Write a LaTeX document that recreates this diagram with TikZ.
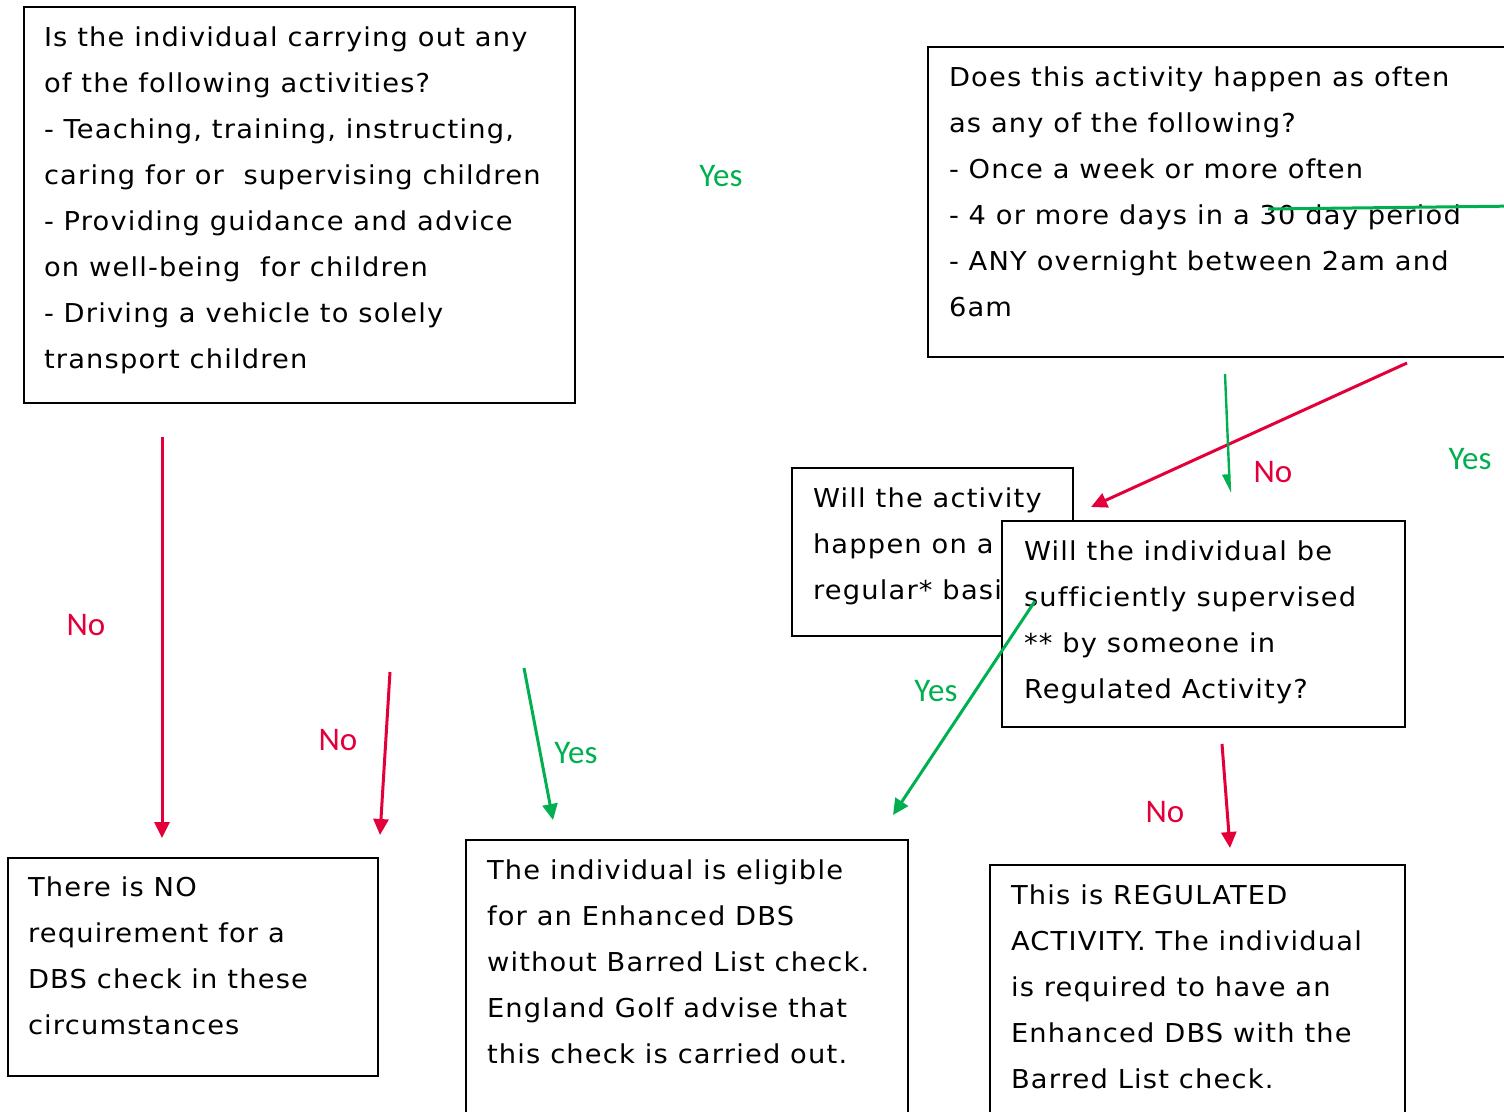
\documentclass[tikz,border=0pt]{standalone}
\usepackage{fontspec}
\setmainfont[LetterSpace=4.6,FakeStretch=1.05,Ligatures={NoCommon}]{DejaVu Sans}
\newfontfamily\lblfont{Carlito}
\usetikzlibrary{arrows.meta}
\definecolor{nored}{RGB}{227,0,58}
\definecolor{yesgreen}{RGB}{0,176,80}
\begin{document}
\begin{tikzpicture}[x=1pt,y=-1pt,
  box/.style={draw=black, line width=1.6pt, fill=white, anchor=north west,
    inner sep=0pt, outer sep=0pt},
  txt/.style={anchor=north west, inner sep=0pt, outer sep=0pt, align=left,
    font=\fontsize{26}{46}\selectfont},
  lbl/.style={inner sep=0pt, font=\lblfont\fontsize{33}{40}\selectfont},
  nolbl/.style={lbl, text=nored},
  yeslbl/.style={lbl, text=yesgreen},
  noarrow/.style={draw=nored, line width=3pt, -{Triangle[length=16pt,width=15pt]}},
  yesarrow/.style={draw=yesgreen, line width=3pt, -{Triangle[length=16pt,width=15pt]}},
  thinyes/.style={draw=yesgreen, line width=2.4pt, -{Triangle[harpoon,swap,length=16pt,width=14pt]}},
  plainyes/.style={draw=yesgreen, line width=3pt}
]
\useasboundingbox (0,0) rectangle (1504,1111);
\clip (0,0) rectangle (1504,1111);

% boxes and texts
\node[box, minimum width=551pt, minimum height=396pt] (q1) at (24,7) {};
\node[txt] (q1t) at ([xshift=20pt]q1.north west) {\rule{0pt}{39pt}Is the individual carrying out any\\
of the following activities?\\
- Teaching, training, instructing,\\
caring for or \ supervising children\\
- Providing guidance and advice\\
on well-being \ for children\\
- Driving a vehicle to solely\\
transport children};

\node[box, minimum width=592pt, minimum height=310pt] (q2) at (928,47) {};
\node[txt] (q2t) at ([xshift=21pt]q2.north west) {\rule{0pt}{39pt}Does this activity happen as often\\
as any of the following?\\
- Once a week or more often\\
- 4 or more days in a 30 day period\\
- ANY overnight between 2am and\\
6am};

\node[box, minimum width=281pt, minimum height=168pt] (q3) at (792,468) {};
\node[txt] (q3t) at ([xshift=21pt]q3.north west) {\rule{0pt}{39pt}Will the activity\\
happen on a\\
regular* basis?};

\node[box, minimum width=403pt, minimum height=206pt] (q4) at (1002,521) {};
\node[txt] (q4t) at ([xshift=22pt]q4.north west) {\rule{0pt}{39pt}Will the individual be\\
sufficiently supervised\\
** by someone in\\
Regulated Activity?};

\node[box, minimum width=370pt, minimum height=218pt] (r1) at (8,858) {};
\node[txt] (r1t) at ([xshift=20pt]r1.north west) {\rule{0pt}{38pt}There is NO\\
requirement for a\\
DBS check in these\\
circumstances};

\node[box, minimum width=442pt, minimum height=285pt] (r2) at (466,840) {};
\node[txt] (r2t) at ([xshift=21pt]r2.north west) {\rule{0pt}{39pt}The individual is eligible\\
for an Enhanced DBS\\
without Barred List check.\\
England Golf advise that\\
this check is carried out.};

\node[box, minimum width=415pt, minimum height=260pt] (r3) at (990,865) {};
\node[txt] (r3t) at ([xshift=21pt]r3.north west) {\rule{0pt}{39pt}This is REGULATED\\
ACTIVITY. The individual\\
is required to have an\\
Enhanced DBS with the\\
Barred List check.};

% connector end points
\coordinate (a1s) at (162,437);  \coordinate (a1e) at (162,838);
\coordinate (a2s) at (390,672);  \coordinate (a2e) at (380,835);
\coordinate (a3s) at (524,668);  \coordinate (a3e) at (553,820);
\coordinate (a4s) at (1407,363); \coordinate (a4e) at (1091,507);
\coordinate (a5s) at (1225,374); \coordinate (a5e) at (1230,493);
\coordinate (a6s) at (1035,601); \coordinate (a6e) at (893,815);
\coordinate (a7s) at (1222,744); \coordinate (a7e) at (1230,848);
\coordinate (g1s) at (1268,209); \coordinate (g1e) at (1520,206);

\draw[noarrow] (a1s) -- (a1e);
\draw[noarrow] (a2s) -- (a2e);
\draw[yesarrow] (a3s) -- (a3e);
\draw[noarrow] (a4s) -- (a4e);
\draw[thinyes] (a5s) -- (a5e);
\draw[yesarrow] (a6s) -- (a6e);
\draw[noarrow] (a7s) -- (a7e);
\draw[plainyes] (g1s) -- (g1e);

% labels
\node[yeslbl] (l1) at (721,176) {Yes};
\node[nolbl] (l2) at (86,625) {No};
\node[nolbl] (l3) at (338,740) {No};
\node[yeslbl] (l4) at (576,753) {Yes};
\node[yeslbl] (l5) at (936,691) {Yes};
\node[nolbl] (l6) at (1273,472) {No};
\node[yeslbl] (l7) at (1470,459) {Yes};
\node[nolbl] (l8) at (1165,812) {No};
\end{tikzpicture}
\end{document}
